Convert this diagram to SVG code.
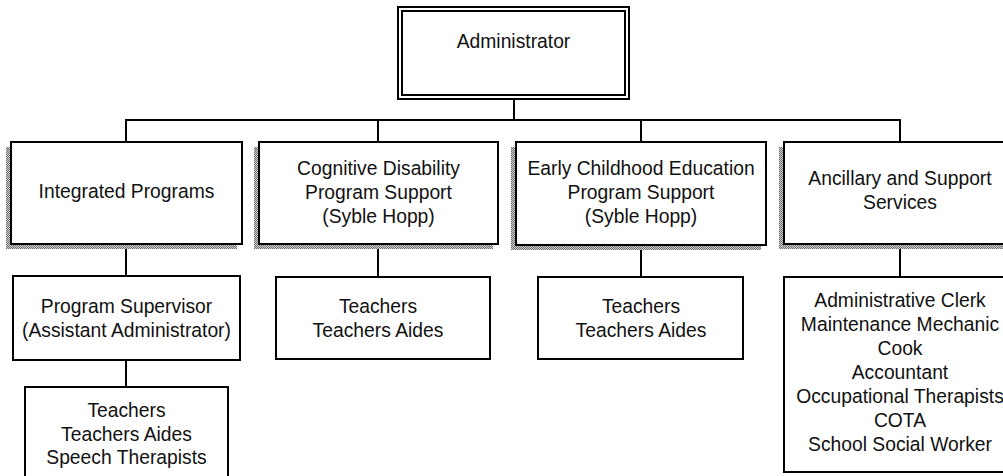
<svg xmlns="http://www.w3.org/2000/svg" width="1003" height="476" viewBox="0 0 1003 476">
  <defs>
    <!-- dithered grey fill for the drop shadows -->
    <pattern id="dither" width="2" height="2" patternUnits="userSpaceOnUse">
      <rect width="2" height="2" fill="#d0d0d0"/>
      <rect width="1" height="1" fill="#6e6e6e"/>
      <rect x="1" y="1" width="1" height="1" fill="#6e6e6e"/>
    </pattern>
  </defs>
  <style>
    .box { fill: #ffffff; stroke: #000000; stroke-width: 2; }
    .shadow { fill: url(#dither); stroke: none; }
    .link { fill: none; stroke: #000000; stroke-width: 2; }
    text { font-family: "Liberation Sans", Arial, sans-serif; font-size: 19.3px; fill: #111111; text-anchor: middle; }
  </style>
  <rect width="1003" height="476" fill="#ffffff"/>

  <g id="connectors">
    <line class="link" x1="514" y1="99" x2="514" y2="120"/>
    <line class="link" x1="125" y1="120" x2="901" y2="120"/>
    <line class="link" x1="126" y1="120" x2="126" y2="142"/>
    <line class="link" x1="378" y1="120" x2="378" y2="142"/>
    <line class="link" x1="641" y1="120" x2="641" y2="142"/>
    <line class="link" x1="900" y1="120" x2="900" y2="142"/>
    <line class="link" x1="126" y1="244" x2="126" y2="276"/>
    <line class="link" x1="126" y1="360" x2="126" y2="387"/>
    <line class="link" x1="378" y1="244" x2="378" y2="277"/>
    <line class="link" x1="641" y1="245" x2="641" y2="277"/>
    <line class="link" x1="900" y1="244" x2="900" y2="277"/>
  </g>

  <g id="administrator">
    <rect class="box" x="398" y="7" width="231" height="92"/>
    <rect class="box" x="402" y="11" width="223" height="84"/>
    <text x="513.5" y="48">Administrator</text>
  </g>

  <g id="integrated-programs">
    <rect class="shadow" x="6" y="147" width="231" height="102"/>
    <rect class="box" x="11" y="142" width="231" height="102"/>
    <text x="126.5" y="198">Integrated Programs</text>
  </g>

  <g id="cognitive-disability">
    <rect class="shadow" x="254" y="147" width="239" height="102"/>
    <rect class="box" x="259" y="142" width="239" height="102"/>
    <text x="378.5" y="175">Cognitive Disability</text>
    <text x="378.5" y="199">Program Support</text>
    <text x="378.5" y="223">(Syble Hopp)</text>
  </g>

  <g id="early-childhood">
    <rect class="shadow" x="511" y="147" width="250" height="103"/>
    <rect class="box" x="516" y="142" width="250" height="103"/>
    <text x="641" y="175">Early Childhood Education</text>
    <text x="641" y="199">Program Support</text>
    <text x="641" y="223">(Syble Hopp)</text>
  </g>

  <g id="ancillary-support">
    <rect class="shadow" x="779" y="147" width="240" height="102"/>
    <rect class="box" x="784" y="142" width="240" height="102"/>
    <text x="900" y="185">Ancillary and Support</text>
    <text x="900" y="209">Services</text>
  </g>

  <g id="program-supervisor">
    <rect class="box" x="13" y="276" width="227" height="84"/>
    <text x="126.5" y="313">Program Supervisor</text>
    <text x="126.5" y="337">(Assistant Administrator)</text>
  </g>

  <g id="integrated-staff">
    <rect class="box" x="25" y="387" width="203" height="100"/>
    <text x="126.5" y="417">Teachers</text>
    <text x="126.5" y="441">Teachers Aides</text>
    <text x="126.5" y="464">Speech Therapists</text>
  </g>

  <g id="cognitive-staff">
    <rect class="box" x="276" y="277" width="214" height="82"/>
    <text x="378" y="313">Teachers</text>
    <text x="378" y="337">Teachers Aides</text>
  </g>

  <g id="early-childhood-staff">
    <rect class="box" x="538" y="277" width="205" height="82"/>
    <text x="641" y="313">Teachers</text>
    <text x="641" y="337">Teachers Aides</text>
  </g>

  <g id="ancillary-staff">
    <rect class="box" x="784" y="277" width="240" height="195"/>
    <text x="900" y="307">Administrative Clerk</text>
    <text x="900" y="331">Maintenance Mechanic</text>
    <text x="900" y="355">Cook</text>
    <text x="900" y="379">Accountant</text>
    <text x="900" y="403">Occupational Therapists</text>
    <text x="900" y="427">COTA</text>
    <text x="900" y="451">School Social Worker</text>
  </g>
</svg>
